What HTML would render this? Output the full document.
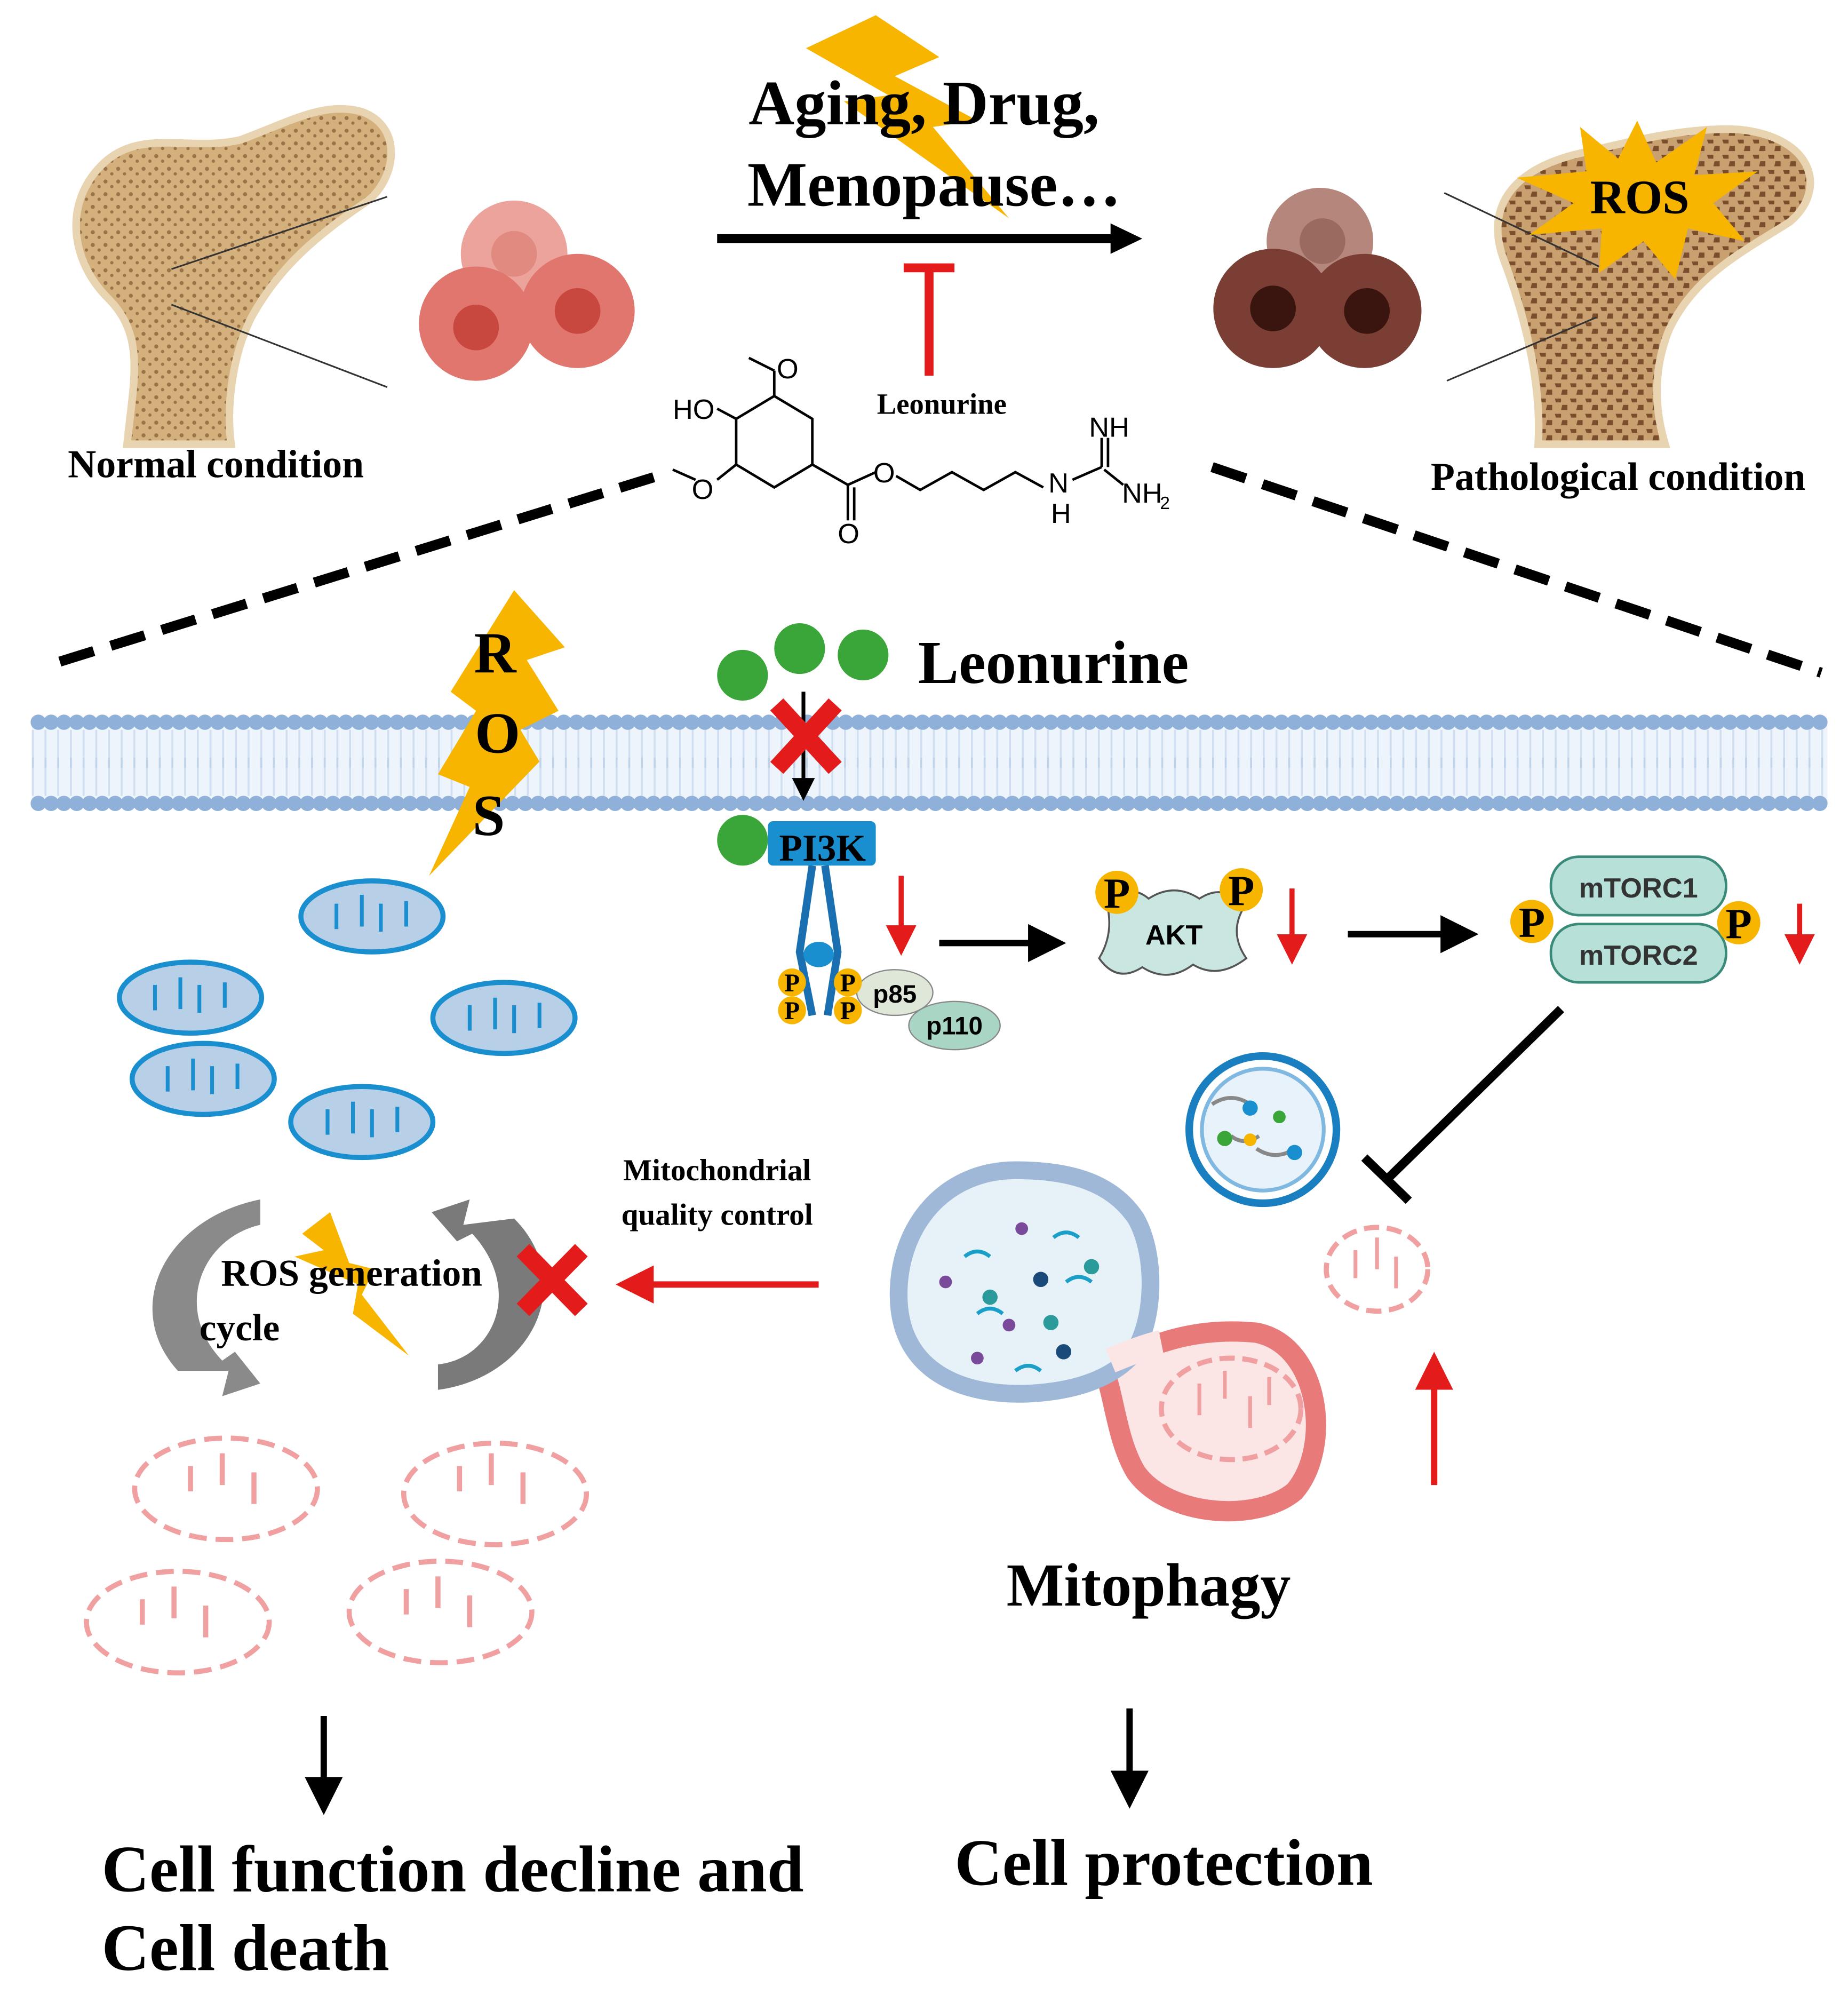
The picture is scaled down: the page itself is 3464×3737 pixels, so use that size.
<!DOCTYPE html>
<html><head><meta charset="utf-8"><style>html,body{margin:0;padding:0;background:#fff}svg{display:block}</style></head><body>
<svg width="3464" height="3737" viewBox="0 0 1456 1571" xmlns="http://www.w3.org/2000/svg" font-family="Liberation Serif, serif" font-weight="bold">
<defs>
<pattern id="dots" width="10" height="10" patternUnits="userSpaceOnUse"><rect width="10" height="10" fill="#d4b07c"/><circle cx="3" cy="3" r="1.6" fill="#9a7448"/><circle cx="8" cy="7" r="1.3" fill="#9a7448"/></pattern>
<pattern id="dots2" width="12" height="12" patternUnits="userSpaceOnUse"><rect width="12" height="12" fill="#c9a070"/><path d="M1 2h5v3h-4zM7 7h4v4h-5z" fill="#7a4e2c"/></pattern>
<marker id="ab" markerWidth="6" markerHeight="6" refX="4" refY="3" orient="auto"><path d="M0,0L6,3L0,6z" fill="#000"/></marker>
<marker id="ar" markerWidth="6" markerHeight="6" refX="4" refY="3" orient="auto"><path d="M0,0L6,3L0,6z" fill="#e31b1b"/></marker>
</defs>
<!-- left bone -->
<path d="M100,350 C105,300 115,265 85,235 C55,205 50,160 80,130 C110,100 150,120 190,110 C230,95 255,80 285,88 C318,100 312,140 290,158 C250,185 220,210 198,250 C183,280 178,320 182,350 Z" fill="url(#dots)" stroke="#e8d4b0" stroke-width="6"/>
<line x1="135" y1="212" x2="305" y2="155" stroke="#333" stroke-width="1.3"/>
<line x1="135" y1="240" x2="305" y2="305" stroke="#333" stroke-width="1.3"/>
<!-- left cells -->
<circle cx="405" cy="200" r="42" fill="#eba39c"/><circle cx="405" cy="200" r="18" fill="#e08a80"/>
<circle cx="375" cy="255" r="45" fill="#e0766e"/><circle cx="375" cy="258" r="18" fill="#c8473f"/>
<circle cx="455" cy="245" r="45" fill="#e0766e"/><circle cx="455" cy="245" r="18" fill="#c8473f"/>
<!-- right cells -->
<circle cx="1040" cy="190" r="42" fill="#b5867c"/><circle cx="1042" cy="190" r="18" fill="#9a6a60"/>
<circle cx="1003" cy="243" r="47" fill="#7a3e34"/><circle cx="1003" cy="243" r="18" fill="#3a140e"/>
<circle cx="1075" cy="245" r="45" fill="#7a3e34"/><circle cx="1077" cy="245" r="18" fill="#3a140e"/>
<!-- right bone -->
<path d="M1212,350 C1215,300 1200,245 1185,205 C1170,165 1190,135 1240,122 C1290,110 1330,100 1370,102 C1430,108 1440,150 1410,175 C1370,200 1335,218 1315,260 C1303,290 1303,320 1312,350 Z" fill="url(#dots2)" stroke="#e8d4b0" stroke-width="6"/>
<line x1="1138" y1="152" x2="1260" y2="210" stroke="#333" stroke-width="1.3"/>
<line x1="1140" y1="300" x2="1258" y2="250" stroke="#333" stroke-width="1.3"/>
<polygon points="1290,95 1305,128 1345,100 1335,138 1385,135 1350,160 1375,190 1330,180 1320,220 1295,190 1260,215 1262,180 1205,185 1240,160 1195,140 1250,135 1245,100 1275,125" fill="#f7b500"/>
<text x="1292" y="168" font-size="38" text-anchor="middle">ROS</text>
<!-- top lightning -->
<polygon points="690,12 635,38 700,75 665,80 795,172 735,100 770,95 705,60 740,45" fill="#f7b500"/>
<text x="728" y="98" font-size="50" text-anchor="middle">Aging, Drug,</text>
<text x="736" y="162" font-size="50" text-anchor="middle">Menopause…</text>
<line x1="565" y1="188" x2="880" y2="188" stroke="#000" stroke-width="7"/><polygon points="875,176 900,188 875,200" fill="#000"/>
<line x1="732" y1="212" x2="732" y2="296" stroke="#e31b1b" stroke-width="7"/><line x1="712" y1="211" x2="752" y2="211" stroke="#e31b1b" stroke-width="7"/>
<text x="742" y="326" font-size="23" text-anchor="middle">Leonurine</text>
<text x="170" y="376" font-size="31" text-anchor="middle">Normal condition</text>
<text x="1275" y="386" font-size="31" text-anchor="middle">Pathological condition</text>
<!-- chemical structure -->
<g stroke="#000" stroke-width="2" fill="none" font-family="Liberation Sans, sans-serif" font-weight="normal">
<polygon points="610,312 640,330 640,366 610,384 580,366 580,330"/>
<line x1="610" y1="312" x2="610" y2="292"/><line x1="610" y1="292" x2="590" y2="282"/>
<line x1="580" y1="330" x2="565" y2="322"/><line x1="580" y1="366" x2="565" y2="378"/><line x1="548" y1="378" x2="530" y2="370"/>
<line x1="640" y1="366" x2="668" y2="382"/><line x1="668" y1="382" x2="668" y2="410"/><line x1="673" y1="384" x2="673" y2="410"/><line x1="668" y1="382" x2="690" y2="372"/>
<polyline points="706,375 725,386 750,372 775,386 800,372 822,384"/>
<line x1="845" y1="378" x2="868" y2="368"/><line x1="868" y1="368" x2="868" y2="345"/><line x1="873" y1="368" x2="873" y2="345"/><line x1="870" y1="370" x2="885" y2="382"/>
</g>
<g font-family="Liberation Sans, sans-serif" font-weight="normal" font-size="22">
<text x="612" y="298">O</text><text x="530" y="330">HO</text><text x="545" y="393">O</text><text x="688" y="380">O</text><text x="660" y="428">O</text>
<text x="826" y="388">N</text><text x="828" y="412">H</text><text x="858" y="344">NH</text><text x="884" y="396">NH</text><text x="914" y="401" font-size="14">2</text>
</g>
<!-- dashed lines -->
<line x1="515" y1="376" x2="35" y2="525" stroke="#000" stroke-width="8" stroke-dasharray="28,14"/>
<line x1="955" y1="368" x2="1435" y2="530" stroke="#000" stroke-width="8" stroke-dasharray="28,14"/>
<!-- membrane -->
<rect x="25" y="570" width="1415" height="62" fill="#eef4fb"/>
<g stroke="#b0c8e6" stroke-width="1.5">
<line x1="25" y1="590" x2="1440" y2="590" stroke-width="30" stroke-dasharray="1.5,8.5" stroke-opacity="0.5"/><line x1="25" y1="612" x2="1440" y2="612" stroke-width="30" stroke-dasharray="1.5,8.5" stroke-opacity="0.5"/>
</g>
<line x1="30" y1="569" x2="1440" y2="569" stroke="#8fb0d8" stroke-width="12" stroke-dasharray="0.1,10" stroke-linecap="round"/>
<line x1="30" y1="633" x2="1440" y2="633" stroke="#8fb0d8" stroke-width="12" stroke-dasharray="0.1,10" stroke-linecap="round"/>
<!-- ROS lightning -->
<polygon points="405,465 445,510 415,520 440,560 410,575 425,600 338,690 370,620 345,610 375,560 355,545" fill="#f7b500"/>
<text x="390" y="530" font-size="46" text-anchor="middle">R</text>
<text x="392" y="593" font-size="46" text-anchor="middle">O</text>
<text x="385" y="658" font-size="46" text-anchor="middle">S</text>
<!-- leonurine green -->
<circle cx="585" cy="532" r="20" fill="#3aa63a"/><circle cx="630" cy="511" r="20" fill="#3aa63a"/><circle cx="680" cy="516" r="20" fill="#3aa63a"/>
<text x="830" y="538" font-size="48" text-anchor="middle">Leonurine</text>
<line x1="633" y1="545" x2="633" y2="625" stroke="#000" stroke-width="3" marker-end="url(#ab)"/>
<path d="M612,555L658,605M658,555L612,605" stroke="#e31b1b" stroke-width="14"/>
<!-- PI3K receptor -->
<rect x="605" y="647" width="85" height="35" rx="4" fill="#1a8fd0"/>
<circle cx="585" cy="662" r="20" fill="#3aa63a"/>
<text x="648" y="678" font-size="30" text-anchor="middle">PI3K</text>
<path d="M640,682 L630,750 L640,800 M650,682 L660,750 L652,800" stroke="#1a6fb0" stroke-width="6" fill="none"/>
<ellipse cx="645" cy="752" rx="12" ry="10" fill="#1a8fd0"/>
<ellipse cx="705" cy="782" rx="30" ry="18" fill="#dfe8d8" stroke="#888"/><text x="705" y="790" font-size="20" font-family="Liberation Sans, sans-serif" text-anchor="middle">p85</text>
<ellipse cx="752" cy="808" rx="36" ry="19" fill="#a9d6c4" stroke="#888"/><text x="752" y="815" font-size="20" font-family="Liberation Sans, sans-serif" text-anchor="middle">p110</text>
<g font-size="20"><circle cx="624" cy="774" r="11" fill="#f7b500"/><circle cx="624" cy="796" r="11" fill="#f7b500"/><circle cx="668" cy="774" r="11" fill="#f7b500"/><circle cx="668" cy="796" r="11" fill="#f7b500"/>
<text x="624" y="781" text-anchor="middle">P</text><text x="624" y="803" text-anchor="middle">P</text><text x="668" y="781" text-anchor="middle">P</text><text x="668" y="803" text-anchor="middle">P</text></g>
<!-- red down arrows -->
<g stroke="#e31b1b" stroke-width="4" marker-end="url(#ar)"><line x1="710" y1="690" x2="710" y2="745"/><line x1="1018" y1="700" x2="1018" y2="752"/><line x1="1418" y1="712" x2="1418" y2="752"/></g>
<line x1="740" y1="743" x2="830" y2="743" stroke="#000" stroke-width="5" marker-end="url(#ab)"/>
<line x1="1062" y1="736" x2="1155" y2="736" stroke="#000" stroke-width="5" marker-end="url(#ab)"/>
<!-- AKT -->
<path d="M872,712 Q890,695 905,708 Q925,695 945,708 Q965,695 980,715 Q968,735 982,755 Q960,772 940,760 Q920,775 900,762 Q880,775 866,755 Q878,735 872,712Z" fill="#c9e6e0" stroke="#555" stroke-width="1.5"/>
<text x="925" y="744" font-size="22" font-family="Liberation Sans, sans-serif" text-anchor="middle">AKT</text>
<circle cx="880" cy="703" r="17" fill="#f7b500"/><text x="880" y="715" font-size="34" text-anchor="middle">P</text>
<circle cx="978" cy="701" r="17" fill="#f7b500"/><text x="978" y="713" font-size="34" text-anchor="middle">P</text>
<!-- mTORC -->
<rect x="1222" y="675" width="138" height="46" rx="22" fill="#b7e0d8" stroke="#3a8a7a" stroke-width="2"/>
<rect x="1222" y="728" width="138" height="46" rx="22" fill="#b7e0d8" stroke="#3a8a7a" stroke-width="2"/>
<text x="1291" y="707" font-size="22" font-family="Liberation Sans, sans-serif" text-anchor="middle" fill="#333">mTORC1</text>
<text x="1291" y="760" font-size="22" font-family="Liberation Sans, sans-serif" text-anchor="middle" fill="#333">mTORC2</text>
<circle cx="1207" cy="726" r="17" fill="#f7b500"/><text x="1207" y="738" font-size="34" text-anchor="middle">P</text>
<circle cx="1370" cy="727" r="17" fill="#f7b500"/><text x="1370" y="739" font-size="34" text-anchor="middle">P</text>
<!-- inhibition -->
<line x1="1230" y1="795" x2="1092" y2="930" stroke="#000" stroke-width="7"/>
<line x1="1075" y1="912" x2="1110" y2="946" stroke="#000" stroke-width="7"/>
<!-- vesicle -->
<circle cx="995" cy="890" r="58" fill="#fff" stroke="#1a7fc0" stroke-width="6"/><circle cx="995" cy="890" r="48" fill="#e8f2fa" stroke="#7fb8e0" stroke-width="3"/>
<path d="M955,870 q15,-10 30,0 M990,905 q15,10 30,0 M970,895 q10,8 22,0" stroke="#888" stroke-width="3" fill="none"/>
<circle cx="965" cy="897" r="6" fill="#3aa63a"/><circle cx="985" cy="873" r="6" fill="#1a8fd0"/><circle cx="1020" cy="908" r="6" fill="#1a8fd0"/><circle cx="985" cy="898" r="5" fill="#f7b500"/><circle cx="1008" cy="880" r="5" fill="#3aa63a"/>
<!-- pink small mito -->
<ellipse cx="1085" cy="1000" rx="40" ry="33" fill="none" stroke="#f0a0a0" stroke-width="4" stroke-dasharray="12,6"/>
<path d="M1068,985v22M1085,975v25M1100,990v25" stroke="#f0a0a0" stroke-width="3"/>
<line x1="1130" y1="1170" x2="1130" y2="1075" stroke="#e31b1b" stroke-width="5" marker-end="url(#ar)"/>
<!-- blue mitochondria -->
<g fill="#b8cfe8" stroke="#1a8fd0" stroke-width="4">
<ellipse cx="293" cy="722" rx="56" ry="28"/><ellipse cx="150" cy="786" rx="56" ry="28"/><ellipse cx="397" cy="802" rx="56" ry="28"/><ellipse cx="160" cy="850" rx="56" ry="28"/><ellipse cx="285" cy="884" rx="56" ry="28"/>
</g>
<g stroke="#1a8fd0" stroke-width="3">
<path d="M265,712v20M285,705v25M300,712v22M320,710v20"/><path d="M122,776v20M142,770v25M157,776v22M177,774v20"/><path d="M370,792v20M390,786v25M405,792v22M425,790v20"/><path d="M132,840v20M152,834v25M167,840v22M187,838v20"/><path d="M258,874v20M278,868v25M293,874v22M313,872v20"/>
</g>
<!-- cycle arrows -->
<path d="M205,945 C130,960 95,1030 140,1080 L180,1080 L175,1100 L205,1090 L185,1065 L175,1072 C135,1030 160,975 205,965Z" fill="#8a8a8a"/>
<path d="M345,1095 C420,1085 455,1010 405,960 L365,965 L370,945 L340,955 L360,978 L372,972 C412,1015 390,1070 345,1075Z" fill="#7a7a7a"/>
<polygon points="260,955 275,995 295,1000 285,1020 322,1068 278,1035 282,1012 232,990 255,985 238,972" fill="#f7b500"/>
<text x="277" y="1013" font-size="30" text-anchor="middle">ROS generation</text>
<text x="157" y="1056" font-size="30">cycle</text>
<path d="M412,985L458,1032M458,985L412,1032" stroke="#e31b1b" stroke-width="14"/>
<text x="565" y="930" font-size="24" text-anchor="middle">Mitochondrial</text>
<text x="565" y="965" font-size="24" text-anchor="middle">quality control</text>
<line x1="645" y1="1012" x2="495" y2="1012" stroke="#e31b1b" stroke-width="5" marker-end="url(#ar)"/>
<!-- mitophagy -->
<path d="M870,1080 C900,1060 940,1045 990,1050 C1040,1060 1050,1140 1020,1175 C990,1200 920,1195 895,1160 C880,1135 878,1100 870,1080Z" fill="#fbe5e5" stroke="#e87a7a" stroke-width="16"/>
<path d="M800,922 C745,922 708,965 708,1020 C708,1075 750,1100 810,1098 C850,1096 875,1085 890,1070 C910,1045 912,990 895,960 C875,930 840,922 800,922Z" fill="#e6f2f8" stroke="#9fb8d8" stroke-width="14"/>
<path d="M875,1072 C892,1065 905,1060 915,1058" stroke="#fbe5e5" stroke-width="20" fill="none"/>
<ellipse cx="970" cy="1110" rx="55" ry="40" fill="none" stroke="#f0a0a0" stroke-width="4" stroke-dasharray="12,6"/>
<path d="M945,1090v25M965,1080v22M985,1100v25M1000,1085v22" stroke="#f0a0a0" stroke-width="3"/>
<g stroke="#1aa0c8" stroke-width="3" fill="none"><path d="M760,990q10,-8 20,0 M830,975q10,-8 20,0 M770,1035q10,-8 20,0 M800,1080q10,-8 20,0 M840,1010q10,-8 20,0"/></g>
<circle cx="805" cy="968" r="5" fill="#7a4a9a"/><circle cx="820" cy="1008" r="6" fill="#1a4a7a"/><circle cx="860" cy="998" r="6" fill="#2a9a9a"/><circle cx="745" cy="1010" r="5" fill="#7a4a9a"/><circle cx="780" cy="1022" r="6" fill="#2a9a9a"/><circle cx="828" cy="1042" r="6" fill="#2a9a9a"/><circle cx="795" cy="1044" r="5" fill="#7a4a9a"/><circle cx="838" cy="1065" r="6" fill="#1a4a7a"/><circle cx="770" cy="1070" r="5" fill="#7a4a9a"/>
<text x="905" y="1265" font-size="48" text-anchor="middle">Mitophagy</text>
<!-- pink dashed mitos -->
<g fill="none" stroke="#f0a0a0" stroke-width="4" stroke-dasharray="14,7">
<ellipse cx="178" cy="1173" rx="72" ry="40"/><ellipse cx="390" cy="1177" rx="72" ry="40"/><ellipse cx="140" cy="1278" rx="72" ry="40"/><ellipse cx="347" cy="1270" rx="72" ry="40"/>
</g>
<g stroke="#f0a0a0" stroke-width="4"><path d="M150,1155v20M175,1145v25M200,1160v25M362,1155v20M387,1145v25M412,1160v25M112,1260v20M137,1250v25M162,1265v25M320,1252v20M345,1242v25M370,1257v25"/></g>
<!-- bottom -->
<line x1="255" y1="1352" x2="255" y2="1420" stroke="#000" stroke-width="5" marker-end="url(#ab)"/>
<line x1="890" y1="1346" x2="890" y2="1415" stroke="#000" stroke-width="5" marker-end="url(#ab)"/>
<text x="80" y="1490" font-size="52">Cell function decline and</text>
<text x="80" y="1552" font-size="52">Cell death</text>
<text x="917" y="1485" font-size="52" text-anchor="middle">Cell protection</text>
</svg>
</body></html>
